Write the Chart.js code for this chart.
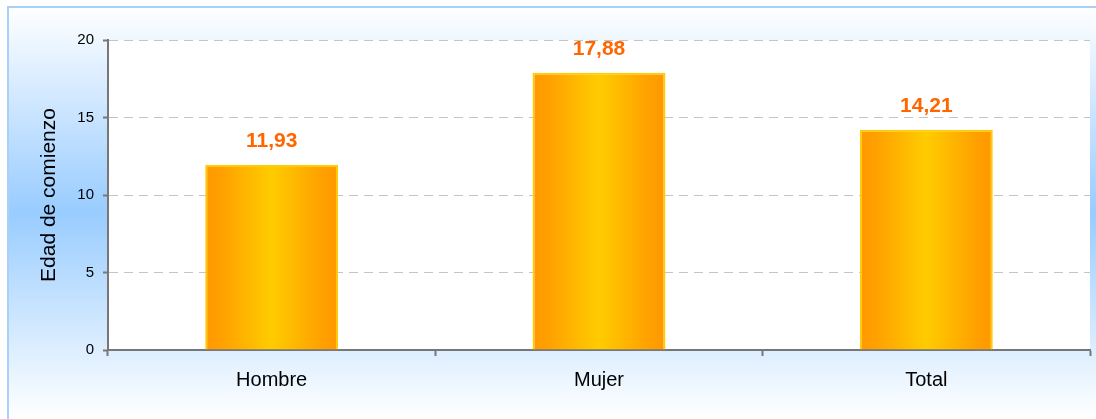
<!DOCTYPE html>
<html>
<head>
<meta charset="utf-8">
<script src="https://cdn.jsdelivr.net/npm/chart.js@4/dist/chart.umd.min.js"></script>
<style>
    html, body { margin: 0; padding: 0; background: #fff; }
    #wrap { width: 1096px; height: 419px; position: relative; }
</style>
</head>
<body>
<div id="wrap"><canvas id="chart"></canvas></div>
<script>
const categories = ['Hombre', 'Mujer', 'Total'];
const edadValues = [11.93, 17.88, 14.21];
const yTicks = [0, 5, 10, 15, 20];

const FONT = "'Liberation Sans', Arial, sans-serif";
const BAR_PCT = 0.406;

function formatValue(v) {
    return v.toFixed(2).replace('.', ',');
}

// fondo degradado + area del grafico en blanco
const backgroundPlugin = {
    id: 'fondo',
    beforeDraw(chart) {
        const { ctx, chartArea: a, width, height } = chart;
        ctx.save();
        ctx.fillStyle = '#ffffff';
        ctx.fillRect(0, 0, width, height);
        const g = ctx.createLinearGradient(0, 6, 0, height);
        g.addColorStop(0, '#ffffff');
        g.addColorStop(0.5, '#99ccff');
        g.addColorStop(1, '#ffffff');
        ctx.fillStyle = g;
        ctx.fillRect(7, 6, width, height);
        ctx.strokeStyle = '#a8d0f8';
        ctx.lineWidth = 2;
        ctx.strokeRect(8, 7, width + 10, height + 10);
        ctx.fillStyle = '#ffffff';
        ctx.fillRect(a.left, a.top, a.right - a.left, a.bottom - a.top);
        ctx.restore();
    }
};

// etiquetas de valor encima de cada barra
const valueLabels = {
    id: 'etiquetas',
    afterDatasetsDraw(chart) {
        const { ctx } = chart;
        const meta = chart.getDatasetMeta(0);
        ctx.save();
        ctx.font = `bold 21px ${FONT}`;
        ctx.fillStyle = '#ff6600';
        ctx.textAlign = 'center';
        ctx.textBaseline = 'alphabetic';
        meta.data.forEach((bar, i) => {
            ctx.fillText(formatValue(edadValues[i]), bar.x, bar.y - 18);
        });
        ctx.restore();
    }
};

function barGradient(c) {
    const chart = c.chart;
    const x = chart.scales.x;
    if (!x || !chart.chartArea) return '#ffcc00';
    const cx = x.getPixelForValue(c.dataIndex);
    const w = (x.width / categories.length) * BAR_PCT;
    const g = chart.ctx.createLinearGradient(cx - w / 2, 0, cx + w / 2, 0);
    g.addColorStop(0, '#ff9900');
    g.addColorStop(0.12, '#ffa000');
    g.addColorStop(0.5, '#ffcc00');
    g.addColorStop(0.88, '#ffa000');
    g.addColorStop(1, '#ff9900');
    return g;
}

new Chart(document.getElementById('chart'), {
    type: 'bar',
    data: {
        labels: categories,
        datasets: [{
            data: edadValues,
            backgroundColor: barGradient,
            borderColor: '#ffcc00',
            borderWidth: 2,
            barPercentage: BAR_PCT,
            categoryPercentage: 1
        }]
    },
    options: {
        responsive: true,
        maintainAspectRatio: false,
        animation: false,
        layout: { padding: { left: 0, top: 40, right: 6, bottom: 0 } },
        plugins: {
            legend: { display: false },
            tooltip: { enabled: false }
        },
        scales: {
            x: {
                afterFit: s => { s.height = 69; },
                grid: {
                    drawOnChartArea: false,
                    tickLength: 6,
                    tickColor: '#777777',
                    tickWidth: 2
                },
                border: { color: '#777777', width: 2 },
                ticks: {
                    color: '#000',
                    padding: 12,
                    font: { family: FONT, size: 20 }
                }
            },
            y: {
                min: 0,
                max: 20,
                afterFit: s => { s.width = 108; },
                afterBuildTicks: s => { s.ticks = yTicks.map(v => ({ value: v })); },
                grid: {
                    color: c => (c.tick && c.tick.value === 0 ? 'rgba(0,0,0,0)' : '#c4c4c4'),
                    tickLength: 5,
                    tickColor: '#777777',
                    tickWidth: 2
                },
                border: { color: '#777777', width: 2, dash: [9, 6] },
                ticks: {
                    color: '#000',
                    padding: 9,
                    font: { family: FONT, size: 15 }
                },
                title: {
                    display: true,
                    text: 'Edad de comienzo',
                    color: '#000',
                    padding: { top: 37, bottom: 0 },
                    font: { family: FONT, size: 21 }
                }
            }
        }
    },
    plugins: [backgroundPlugin, valueLabels]
});
</script>
</body>
</html>
